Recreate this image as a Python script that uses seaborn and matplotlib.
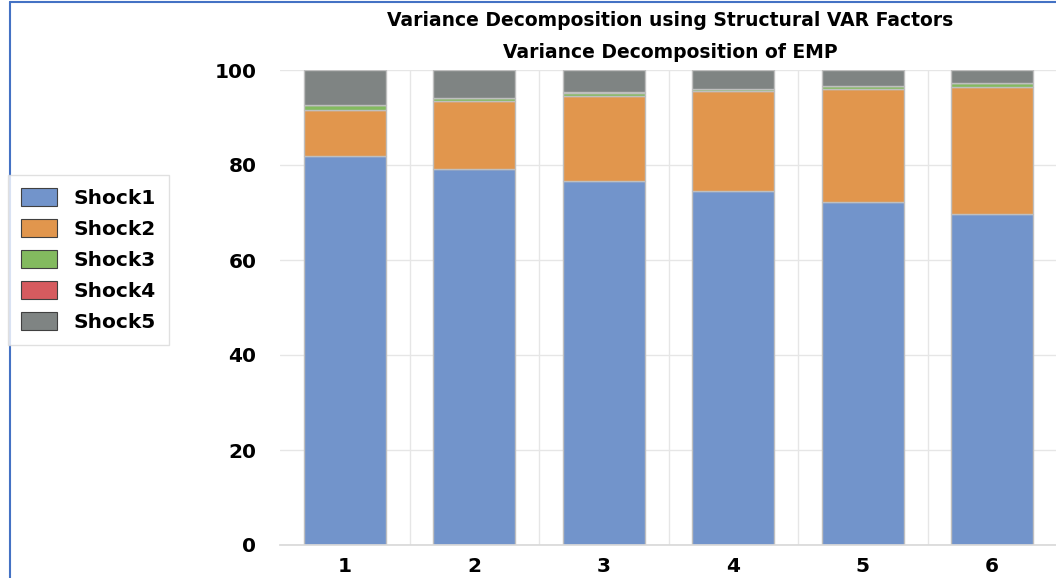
import numpy as np
import pandas as pd
import matplotlib
matplotlib.use("Agg")
import matplotlib.pyplot as plt
import seaborn as sns
from matplotlib.patches import Patch

periods = ["1", "2", "3", "4", "5", "6"]
shock1 = [82.0, 79.1, 76.7, 74.5, 72.2, 69.6]
shock2 = [9.6, 14.3, 17.9, 21.0, 23.8, 26.9]
shock3 = [1.0, 0.7, 0.6, 0.5, 0.6, 0.7]
shock4 = [0.1, 0.1, 0.1, 0.1, 0.1, 0.1]
shock5 = [7.3, 5.8, 4.7, 3.9, 3.3, 2.7]
names = ["Shock1", "Shock2", "Shock3", "Shock4", "Shock5"]
series = [shock1, shock2, shock3, shock4, shock5]
colors = ["#7294CB", "#E1964D", "#83BA5F", "#D65B5F", "#7F8483"]

sns.set_theme(style="white")
plt.rcParams['font.family'] = ['DejaVu Sans']
plt.rcParams['text.color'] = 'black'

fig = plt.figure(figsize=(10.56, 5.78), dpi=100)
ax = fig.add_axes([280/1056, 1-545/578, (1057-280)/1056, (545-70)/578])

bottom = np.zeros(len(periods))
for name, vals, col in zip(names, series, colors):
    df = pd.DataFrame({"period": periods, "value": vals})
    sns.barplot(data=df, x="period", y="value", color=col, ax=ax,
                bottom=bottom, width=0.635, edgecolor="#BFBFBF", linewidth=1.0,
                saturation=1, err_kws={"linewidth": 0})
    bottom = bottom + np.array(vals)

ax.set_ylim(0, 100)
ax.set_xlim(-0.5, 5.5)
ax.set_yticks([0, 20, 40, 60, 80, 100])
ax.set_xlabel("")
ax.set_ylabel("")
for s in ["top", "right", "left"]:
    ax.spines[s].set_visible(False)
ax.spines["bottom"].set_color("#D9D9D9")
ax.yaxis.grid(True, color="#E6E6E6", linewidth=1)
ax.set_axisbelow(True)
for xb in np.arange(0.5, 5.5, 1):
    ax.axvline(xb, color="#E6E6E6", linewidth=1, zorder=0)
ax.tick_params(axis="y", length=0, pad=17, labelsize=14.5)
ax.tick_params(axis="x", length=0, pad=9, labelsize=14.5)
for lab in ax.get_xticklabels() + ax.get_yticklabels():
    lab.set_fontweight("bold")
    lab.set_color("black")

fig.text(670/1056, 1-21/578, "Variance Decomposition using Structural VAR Factors",
         ha="center", va="center", fontsize=13.5, fontweight="bold", color="black")
fig.text(670/1056, 1-52/578, "Variance Decomposition of EMP",
         ha="center", va="center", fontsize=13.5, fontweight="bold", color="black")

handles = [Patch(facecolor=c, edgecolor="#404040", linewidth=0.8, label=n) for n, c in zip(names, colors)]
leg = fig.legend(handles=handles, loc="upper left", bbox_to_anchor=(8/1056, 1-175/578),
                 frameon=True, fontsize=14.5, handlelength=1.8, handleheight=1.0,
                 handletextpad=0.8, labelspacing=0.55, borderpad=0.65, borderaxespad=0,
                 fancybox=False)
leg.get_frame().set_edgecolor("#D9D9D9")
leg.get_frame().set_linewidth(1)
for t in leg.get_texts():
    t.set_fontweight("bold")
    t.set_color("black")

fig.add_artist(plt.Line2D([10/1056, 10/1056], [0, 1-2/578], color="#4472C4", linewidth=1.5, transform=fig.transFigure))
fig.add_artist(plt.Line2D([10/1056, 1], [1-2/578, 1-2/578], color="#4472C4", linewidth=1.5, transform=fig.transFigure))

fig.savefig("out.png", dpi=100)
